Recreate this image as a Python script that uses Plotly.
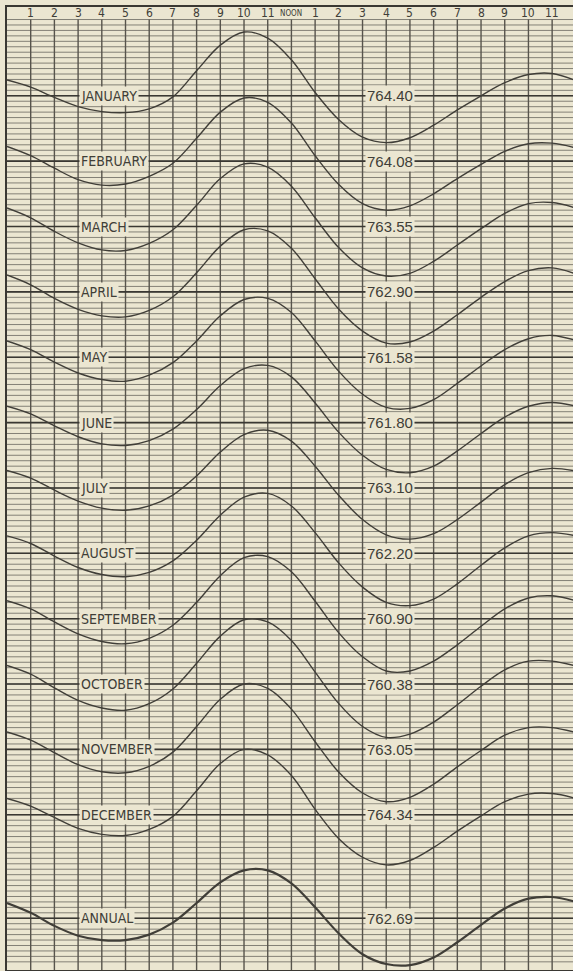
import plotly.graph_objects as go

# hours of the day, midnight to midnight
hours = list(range(25))
hour_labels = ['1', '2', '3', '4', '5', '6', '7', '8', '9', '10', '11', 'NOON',
               '1', '2', '3', '4', '5', '6', '7', '8', '9', '10', '11']

months = ['JANUARY', 'FEBRUARY', 'MARCH', 'APRIL', 'MAY', 'JUNE', 'JULY',
          'AUGUST', 'SEPTEMBER', 'OCTOBER', 'NOVEMBER', 'DECEMBER', 'ANNUAL']
means = ['764.40', '764.08', '763.55', '762.90', '761.58', '761.80', '763.10',
         '762.20', '760.90', '760.38', '763.05', '764.34', '762.69']

# deviation from the mean, mm, hour 0 .. 24
jan = [0.29, 0.16, -0.03, -0.20, -0.29, -0.31, -0.24, -0.02, 0.46, 0.93, 1.17, 1.06, 0.66,
       0.06, -0.44, -0.76, -0.86, -0.77, -0.54, -0.26, 0.00, 0.24, 0.39, 0.41, 0.28]
feb = [0.27, 0.10, -0.13, -0.34, -0.44, -0.42, -0.28, -0.04, 0.42, 0.90, 1.16, 1.08, 0.70,
       0.10, -0.43, -0.78, -0.90, -0.82, -0.60, -0.32, -0.06, 0.18, 0.32, 0.33, 0.24]
mar = [0.34, 0.16, -0.09, -0.30, -0.43, -0.44, -0.31, -0.06, 0.39, 0.88, 1.15, 1.09, 0.74,
       0.16, -0.39, -0.76, -0.91, -0.86, -0.64, -0.34, -0.04, 0.24, 0.42, 0.44, 0.34]
apr = [0.31, 0.13, -0.12, -0.32, -0.44, -0.46, -0.34, -0.09, 0.35, 0.84, 1.14, 1.12, 0.80,
       0.24, -0.32, -0.72, -0.94, -0.92, -0.72, -0.42, -0.10, 0.19, 0.39, 0.44, 0.33]
may = [0.30, 0.14, -0.09, -0.29, -0.41, -0.44, -0.33, -0.10, 0.30, 0.76, 1.06, 1.08, 0.82,
       0.30, -0.26, -0.68, -0.92, -0.94, -0.78, -0.48, -0.16, 0.14, 0.34, 0.40, 0.31]
jun = [0.30, 0.16, -0.06, -0.26, -0.39, -0.42, -0.33, -0.12, 0.24, 0.68, 0.99, 1.05, 0.84,
       0.36, -0.18, -0.60, -0.86, -0.92, -0.80, -0.52, -0.20, 0.10, 0.30, 0.37, 0.30]
jul = [0.32, 0.18, -0.04, -0.24, -0.37, -0.41, -0.33, -0.13, 0.22, 0.66, 0.98, 1.06, 0.86,
       0.40, -0.14, -0.58, -0.86, -0.94, -0.84, -0.58, -0.26, 0.06, 0.28, 0.36, 0.31]
aug = [0.32, 0.18, -0.05, -0.26, -0.39, -0.43, -0.35, -0.14, 0.24, 0.70, 1.03, 1.10, 0.87,
       0.38, -0.18, -0.62, -0.90, -0.96, -0.84, -0.56, -0.22, 0.10, 0.32, 0.38, 0.32]
sep = [0.33, 0.18, -0.06, -0.28, -0.42, -0.46, -0.36, -0.12, 0.30, 0.79, 1.12, 1.14, 0.86,
       0.32, -0.26, -0.70, -0.96, -0.96, -0.78, -0.48, -0.14, 0.18, 0.38, 0.42, 0.33]
oct = [0.34, 0.18, -0.07, -0.30, -0.44, -0.48, -0.36, -0.09, 0.38, 0.88, 1.18, 1.14, 0.80,
       0.22, -0.36, -0.78, -0.98, -0.92, -0.70, -0.38, -0.04, 0.26, 0.42, 0.42, 0.33]
nov = [0.32, 0.17, -0.06, -0.28, -0.41, -0.43, -0.31, -0.05, 0.42, 0.92, 1.20, 1.12, 0.74,
       0.14, -0.42, -0.80, -0.96, -0.88, -0.64, -0.32, -0.02, 0.26, 0.40, 0.40, 0.31]
dec = [0.30, 0.16, -0.05, -0.25, -0.36, -0.38, -0.27, -0.03, 0.44, 0.94, 1.20, 1.10, 0.72,
       0.10, -0.44, -0.78, -0.92, -0.84, -0.60, -0.30, -0.02, 0.24, 0.38, 0.39, 0.30]
annual = [0.28, 0.10, -0.14, -0.32, -0.40, -0.40, -0.30, -0.08, 0.28, 0.66, 0.88, 0.88, 0.64,
          0.20, -0.28, -0.66, -0.84, -0.86, -0.72, -0.44, -0.12, 0.18, 0.36, 0.39, 0.30]
curves = [jan, feb, mar, apr, may, jun, jul, aug, sep, oct, nov, dec, annual]

# base line of each month on the ruled sheet, in tenths of a mm below january
baselines = [0, -12, -24, -36, -48, -60, -72, -84, -96, -108, -120, -132, -151]

paper = '#ebe6d1'
ink = '#403e38'
grid = '#838076'

x_max = 23.88
y_top, y_bottom = 16.3, -160.5
rule_top = 14

fig = go.Figure()

# horizontal ruling, one line per 0.1 mm
hx, hy = [], []
for k in range(int(y_bottom) + 1, rule_top + 1):
    hx += [0, x_max, None]
    hy += [k, k, None]
fig.add_trace(go.Scatter(x=hx, y=hy, mode='lines', hoverinfo='skip',
                         line=dict(width=1, color=grid)))

# vertical ruling, one line per hour
vx, vy = [], []
for h in range(1, 24):
    vx += [h, h, None]
    vy += [rule_top, y_bottom, None]
fig.add_trace(go.Scatter(x=vx, y=vy, mode='lines', hoverinfo='skip',
                         line=dict(width=1.4, color='#57544c')))

# month base lines
bx, by = [], []
for b in baselines:
    bx += [0, x_max, None]
    by += [b, b, None]
fig.add_trace(go.Scatter(x=bx, y=by, mode='lines', hoverinfo='skip',
                         line=dict(width=1.6, color='#3a3833')))

# daily pressure curves
for name, vals, b in zip(months, curves, baselines):
    fig.add_trace(go.Scatter(
        x=hours, y=[b + v * 10 for v in vals],
        mode='lines', name=name, hoverinfo='skip',
        line=dict(width=2.2 if name == 'ANNUAL' else 1.4, color=ink,
                  shape='spline', smoothing=1.0)
    ))

# header: hour labels
for h, lab in zip(range(1, 24), hour_labels):
    fig.add_annotation(x=h, y=15.15, text=lab, showarrow=False,
                       font=dict(family='Liberation Sans Narrow, DejaVu Sans Condensed, Liberation Sans',
                                 size=8 if lab == 'NOON' else 12, color=ink))

# month names and means on the base lines
for name, m, b in zip(months, means, baselines):
    fig.add_annotation(x=3.05, y=b, text=name, showarrow=False, xanchor='left',
                       bgcolor=paper, borderpad=1,
                       font=dict(family='Liberation Sans Narrow, DejaVu Sans Condensed, Liberation Sans',
                                 size=14, color=ink))
    fig.add_annotation(x=15.1, y=b, text=m, showarrow=False, xanchor='left',
                       bgcolor=paper, borderpad=1,
                       font=dict(family='Liberation Sans, Arial', size=15, color=ink))

fig.update_xaxes(range=[0, x_max], showgrid=False, zeroline=False, showticklabels=False,
                 showline=True, mirror=True, linecolor='#3a3833', linewidth=1.5)
fig.update_yaxes(range=[y_bottom, y_top], showgrid=False, zeroline=False, showticklabels=False,
                 showline=True, linecolor='#3a3833', linewidth=2)
fig.update_layout(width=573, height=971, showlegend=False, hovermode=False,
                  margin=dict(l=7, r=0, t=7, b=1),
                  plot_bgcolor=paper, paper_bgcolor=paper)

# the page body has a default 8px margin; drop it so the sheet sits at the window corner
fig.write_html("out.html", config={'displayModeBar': False},
               post_script="document.body.style.margin='0';document.body.style.background='#ebe6d1';")
